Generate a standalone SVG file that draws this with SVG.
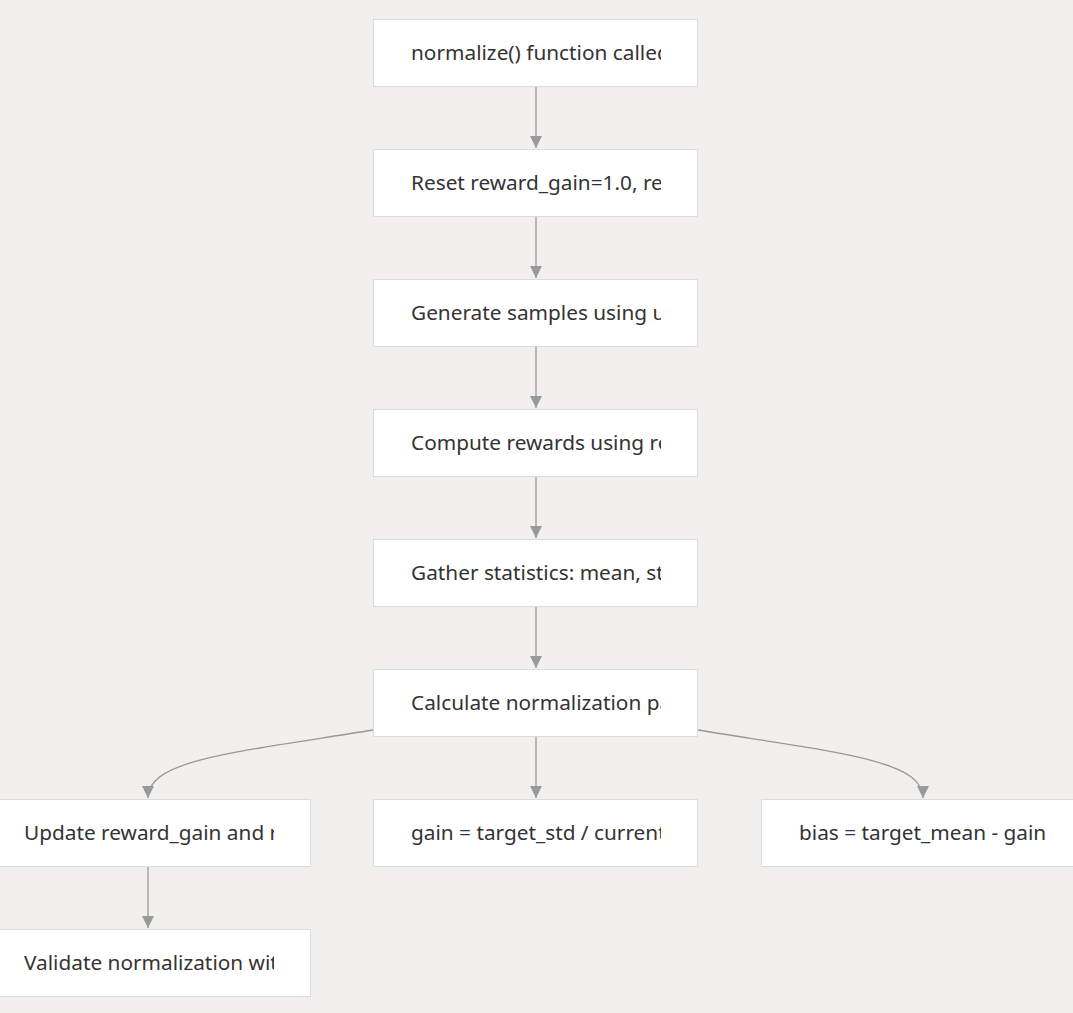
<svg xmlns="http://www.w3.org/2000/svg" width="1073" height="1013" viewBox="0 0 1073 1013">
<style>
.node rect{fill:#ffffff;stroke:#dcdcdc;stroke-width:1}
.node text{font-family:"Segoe UI","Noto Sans","Open Sans",sans-serif;font-size:20.8px;fill:#333333}
.edge{fill:none;stroke:#999999;stroke-width:1.3}
</style>
<defs>
<marker id="ah" viewBox="0 0 10 10" refX="10" refY="5" markerWidth="12" markerHeight="12" markerUnits="userSpaceOnUse" orient="auto">
<path d="M0,0 L10,5 L0,10 z" fill="#999999"/>
</marker>
<clipPath id="c1"><rect x="411" y="0" width="250" height="1013"/></clipPath>
<clipPath id="c2"><rect x="24" y="0" width="250" height="1013"/></clipPath>
</defs>
<rect x="0" y="0" width="1073" height="1013" fill="#f1f0ee"/>
<g id="connectors">
<path class="edge" d="M536,87 L536,148" marker-end="url(#ah)"/>
<path class="edge" d="M536,217 L536,278" marker-end="url(#ah)"/>
<path class="edge" d="M536,347 L536,408" marker-end="url(#ah)"/>
<path class="edge" d="M536,477 L536,538" marker-end="url(#ah)"/>
<path class="edge" d="M536,607 L536,668" marker-end="url(#ah)"/>
<path class="edge" d="M536,737 L536,798" marker-end="url(#ah)"/>
<path class="edge" d="M373,730 C230,753 148,760 148,798" marker-end="url(#ah)"/>
<path class="edge" d="M698,730 C840,753 923,760 923,798" marker-end="url(#ah)"/>
<path class="edge" d="M148,867 L148,928" marker-end="url(#ah)"/>
</g>
<g id="n1" class="node"><rect x="373.5" y="19.5" width="324" height="67"/><text x="411" y="60" clip-path="url(#c1)">normalize() function called</text></g>
<g id="n2" class="node"><rect x="373.5" y="149.5" width="324" height="67"/><text x="411" y="190" clip-path="url(#c1)">Reset reward_gain=1.0, reward_bias=0.0</text></g>
<g id="n3" class="node"><rect x="373.5" y="279.5" width="324" height="67"/><text x="411" y="320" clip-path="url(#c1)">Generate samples using uniform sampling</text></g>
<g id="n4" class="node"><rect x="373.5" y="409.5" width="324" height="67"/><text x="411" y="450" clip-path="url(#c1)">Compute rewards using reward function</text></g>
<g id="n5" class="node"><rect x="373.5" y="539.5" width="324" height="67"/><text x="411" y="580" clip-path="url(#c1)">Gather statistics: mean, std</text></g>
<g id="n6" class="node"><rect x="373.5" y="669.5" width="324" height="67"/><text x="411" y="710" clip-path="url(#c1)">Calculate normalization parameters</text></g>
<g id="n7" class="node"><rect x="-13.5" y="799.5" width="324" height="67"/><text x="24" y="840" clip-path="url(#c2)">Update reward_gain and reward_bias</text></g>
<g id="n8" class="node"><rect x="373.5" y="799.5" width="324" height="67"/><text x="411" y="840" clip-path="url(#c1)">gain = target_std / current_std</text></g>
<g id="n9" class="node"><rect x="761.5" y="799.5" width="324" height="67"/><text x="799" y="840">bias = target_mean - gain</text></g>
<g id="n10" class="node"><rect x="-13.5" y="929.5" width="324" height="67"/><text x="24" y="970" clip-path="url(#c2)">Validate normalization with new samples</text></g>
</svg>
